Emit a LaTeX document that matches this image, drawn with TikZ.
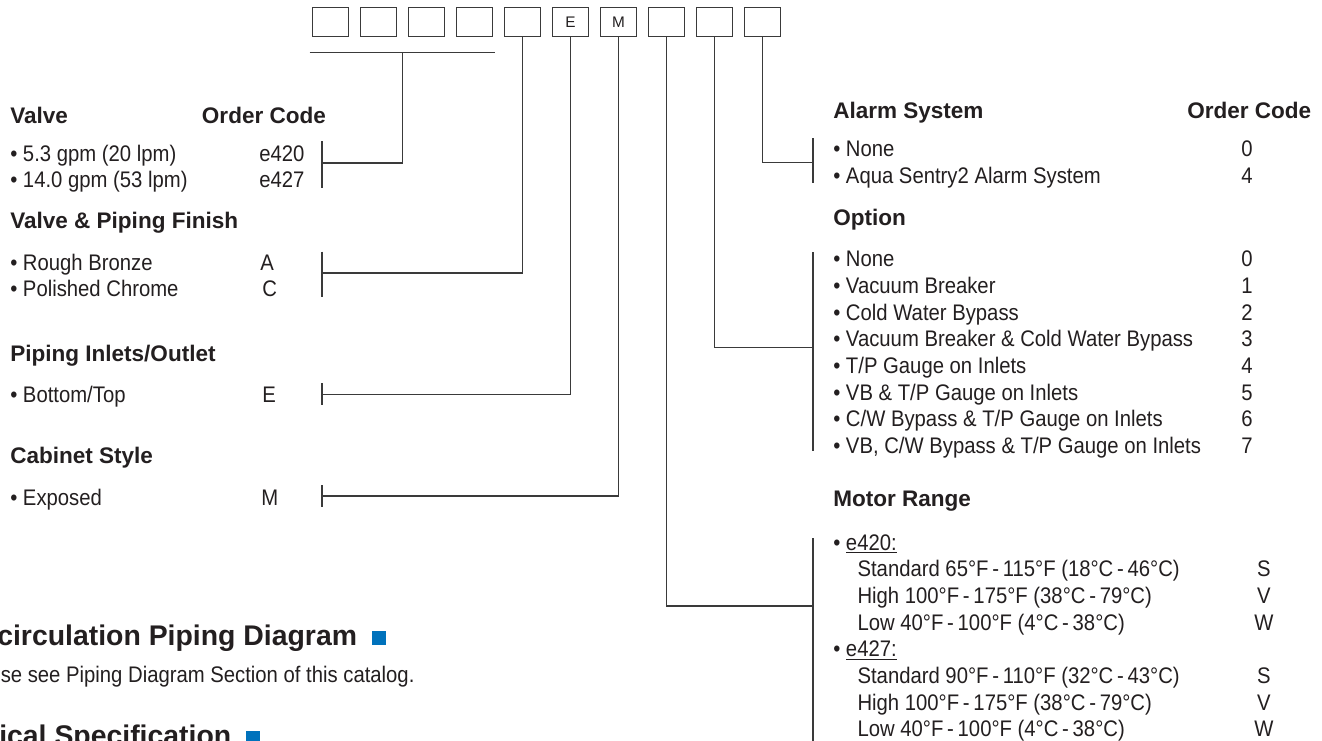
\documentclass[tikz,border=0pt]{standalone}
\usepackage{fontspec}
\setmainfont{Liberation Sans}
\newfontfamily\condsans{Liberation Sans}[FakeStretch=0.9]
\usepackage{xcolor}
\usetikzlibrary{positioning, calc}
\definecolor{inkgray}{HTML}{231F20}
\definecolor{linegray}{HTML}{3A3A3A}
\definecolor{catblue}{HTML}{0072BC}
\tikzstyle{codebox} = [draw=linegray, line width=1pt, rectangle, minimum width=27.4pt, minimum height=22pt, inner sep=0pt, font=\fontsize{11.5}{12}\selectfont, text=inkgray]
\tikzstyle{grouphead} = [anchor=base west, inner sep=0pt, font=\bfseries\fontsize{16.9}{19}\selectfont, text=inkgray]
\tikzstyle{optitem} = [anchor=base west, inner sep=0pt, font=\condsans\fontsize{16.9}{19}\selectfont, text=inkgray]
\tikzstyle{ordercode} = [anchor=base, inner sep=0pt, font=\condsans\fontsize{16.9}{19}\selectfont, text=inkgray]
\tikzstyle{bighead} = [anchor=base west, inner sep=0pt, font=\bfseries\fontsize{21.3}{24}\selectfont, text=inkgray]
\tikzstyle{bluesq} = [fill=catblue, minimum size=10.5pt, inner sep=0pt, anchor=south west]
\tikzstyle{leader} = [draw=linegray, line width=1pt]

\begin{document}
\begin{tikzpicture}[x=0.75pt, y=-0.75pt]
    \path[use as bounding box] (0,0) rectangle (1322,740);
    \clip (0,0) rectangle (1322,740);
    \fill[white] (0,0) rectangle (1322,740);

    % order code boxes
    \foreach \i/\lbl in {1/{},2/{},3/{},4/{},5/{},6/E,7/M,8/{},9/{},10/{}}
        \node (b\i) [codebox] at ({330.5+48*(\i-1)},22) {\lbl};

    % left column
    \node (hValve) [grouphead] at (10,123.3) {Valve};
    \node (hValveCode) [grouphead] at (201.7,123.3) {Order Code};
    \node (v1) [optitem] at (10,161) {• 5.3 gpm (20 lpm)};
    \node (v1c) [optitem] at (259,161) {e420};
    \node (v2) [optitem] at (10,187.7) {• 14.0 gpm (53 lpm)};
    \node (v2c) [optitem] at (259,187.7) {e427};

    \node (hFinish) [grouphead] at (10,228.3) {Valve \& Piping Finish};
    \node (f1) [optitem] at (10,270) {• Rough Bronze};
    \node (f1c) [optitem] at (260,270) {A};
    \node (f2) [optitem] at (10,296.7) {• Polished Chrome};
    \node (f2c) [optitem] at (262,296.7) {C};

    \node (hPiping) [grouphead] at (10,361.7) {Piping Inlets/Outlet};
    \node (p1) [optitem] at (10,402) {• Bottom/Top};
    \node (p1c) [optitem] at (262,402) {E};

    \node (hCabinet) [grouphead] at (10,463.3) {Cabinet Style};
    \node (c1) [optitem] at (10,505) {• Exposed};
    \node (c1c) [optitem] at (261,505) {M};

    % right column
    \node (hAlarm) [grouphead] at (833,118.3) {Alarm System};
    \node (hAlarmCode) [grouphead] at (1187,118.3) {Order Code};
    \node (a1) [optitem] at (833,156.7) {• None};
    \node (a1c) [ordercode] at (1247,156.7) {0};
    \node (a2) [optitem] at (833,183.3) {• Aqua Sentry2 Alarm System};
    \node (a2c) [ordercode] at (1247,183.3) {4};

    \node (hOption) [grouphead] at (833,225) {Option};
    \foreach \k/\txt in {0/{None}, 1/{Vacuum Breaker}, 2/{Cold Water Bypass},
        3/{Vacuum Breaker \& Cold Water Bypass}, 4/{T/P Gauge on Inlets},
        5/{VB \& T/P Gauge on Inlets}, 6/{C/W Bypass \& T/P Gauge on Inlets},
        7/{VB, C/W Bypass \& T/P Gauge on Inlets}} {
        \node (o\k) [optitem] at (833,{266.7+26.67*\k}) {• \txt};
        \node (o\k c) [ordercode] at (1247,{266.7+26.67*\k}) {\k};
    }

    \node (hMotor) [grouphead] at (833,506.7) {Motor Range};
    \node (m1) [optitem] at (833,550) {• \underline{e420:}};
    \node (m11) [optitem] at (857.3,576.7) {Standard 65°F\,-\,115°F (18°C\,-\,46°C)};
    \node (m11c) [ordercode] at (1264,576.7) {S};
    \node (m12) [optitem] at (857.3,603.3) {High 100°F\,-\,175°F (38°C\,-\,79°C)};
    \node (m12c) [ordercode] at (1264,603.3) {V};
    \node (m13) [optitem] at (857.3,630) {Low 40°F\,-\,100°F (4°C\,-\,38°C)};
    \node (m13c) [ordercode] at (1264,630) {W};
    \node (m2) [optitem] at (833,656.7) {• \underline{e427:}};
    \node (m21) [optitem] at (857.3,683.3) {Standard 90°F\,-\,110°F (32°C\,-\,43°C)};
    \node (m21c) [ordercode] at (1264,683.3) {S};
    \node (m22) [optitem] at (857.3,710) {High 100°F\,-\,175°F (38°C\,-\,79°C)};
    \node (m22c) [ordercode] at (1264,710) {V};
    \node (m23) [optitem] at (857.3,736.7) {Low 40°F\,-\,100°F (4°C\,-\,38°C)};
    \node (m23c) [ordercode] at (1264,736.7) {W};

    % section headings below
    \node (recHead) [bighead] at (-3,645) {circulation Piping Diagram};
    \node (recSq) [bluesq] at ([xshift=11pt]recHead.base east) {};
    \node (recNote) [optitem] at (0.5,682) {se see Piping Diagram Section of this catalog.};
    \node (specHead) [bighead] at (-1,745) {ical Specification};
    \node (specSq) [bluesq] at ([xshift=11pt]specHead.base east) {};

    % brackets
    \coordinate (valveBar) at ($(b2.south)!0.5!(b3.south)+(0,15)$);
    \coordinate (valveBr) at (322,163);
    \coordinate (finishBr) at (322,273);
    \coordinate (pipingBr) at (322,394.3);
    \coordinate (cabinetBr) at (322,496);
    \coordinate (alarmBr) at (813,162.3);
    \coordinate (optionBr) at (813,347.7);
    \coordinate (motorBr) at (813,606);

    \draw [leader] ($(b1.south west)+(-2,15)$) -- ($(b4.south east)+(2,15)$);
    \draw [leader] (322,141) -- (322,187.5);
    \draw [leader] (322,251.5) -- (322,296.7);
    \draw [leader] (322,383.3) -- (322,405);
    \draw [leader] (322,485) -- (322,506.7);
    \draw [leader] (813,138) -- (813,183.3);
    \draw [leader] (813,252) -- (813,451);
    \draw [leader] (813,538.3) -- (813,745);

    \draw [leader] (valveBar) |- (valveBr);
    \draw [leader] (b5.south) |- (finishBr);
    \draw [leader] (b6.south) |- (pipingBr);
    \draw [leader] (b7.south) |- (cabinetBr);
    \draw [leader] (b8.south) |- (motorBr);
    \draw [leader] (b9.south) |- (optionBr);
    \draw [leader] (b10.south) |- (alarmBr);
\end{tikzpicture}
\end{document}
